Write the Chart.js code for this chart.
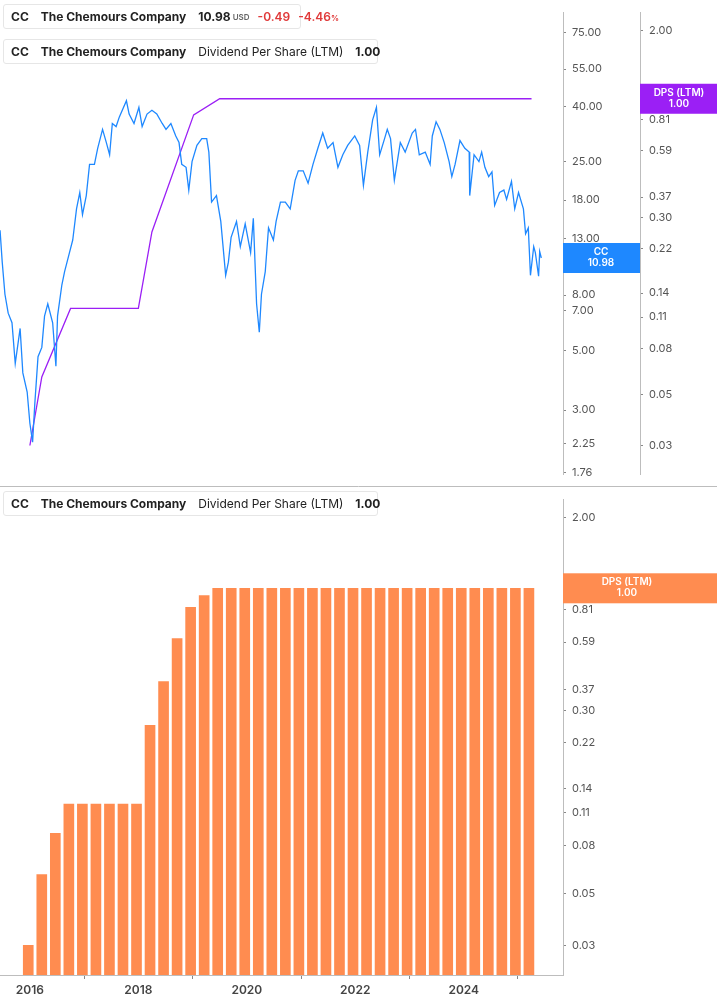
<!DOCTYPE html>
<html><head><meta charset="utf-8">
<script src="https://cdn.jsdelivr.net/npm/chart.js@4"></script>
<style>
body{margin:0;width:717px;height:1005px;background:#fff;font-family:Inter,"Noto Sans",sans-serif;position:relative;overflow:hidden}
.pane{position:absolute;left:0;width:717px}
canvas{display:block}
.lg{position:absolute;left:3px;height:25px;background:#fff;border:1px solid #e6e6e6;border-radius:3px;display:flex;align-items:center;font-size:12px;color:#222;white-space:nowrap;padding-right:10px;box-sizing:border-box}
.lg .bar{width:4px;height:25px;border-radius:3px 0 0 3px;margin-right:8px;margin-left:-1px}
.lg b{font-weight:700;margin-right:12px}
.lg span{margin-right:8px}
.sm{font-size:8px;color:#666;font-weight:600}
.red{color:#e03a3a;font-weight:600}
</style></head><body>
<div class="pane" style="top:0;height:487px"><canvas id="top" width="717" height="487" style="width:717px;height:487px"></canvas></div>
<div class="pane" style="top:487px;height:518px"><canvas id="bot" width="717" height="518" style="width:717px;height:518px"></canvas></div>
<div class="lg" style="top:4px;width:298px"><div class="bar" style="background:#1e88ff"></div><b>CC</b><b>The Chemours Company</b><b style="margin-right:2px">10.98</b><span class="sm">USD</span><span class="red">-0.49</span><span class="red" style="margin:0">-4.46<span class="sm" style="color:#e03a3a">%</span></span></div>
<div class="lg" style="top:39px;width:375px"><div class="bar" style="background:#9b1ff5"></div><b>CC</b><b>The Chemours Company</b><span style="margin-right:12px">Dividend Per Share (LTM)</span><b style="margin:0">1.00</b></div>
<div class="lg" style="top:491px;width:375px"><div class="bar" style="background:#ff8c50"></div><b>CC</b><b>The Chemours Company</b><span style="margin-right:12px">Dividend Per Share (LTM)</span><b style="margin:0">1.00</b></div>
<script>
const priceDates=[2015.45,2015.49,2015.54,2015.60,2015.67,2015.73,2015.82,2015.87,2015.95,2016.00,2016.05,2016.09,2016.15,2016.22,2016.27,2016.33,2016.42,2016.48,2016.51,2016.59,2016.64,2016.73,2016.79,2016.86,2016.92,2016.97,2017.04,2017.10,2017.19,2017.25,2017.34,2017.41,2017.47,2017.52,2017.59,2017.65,2017.78,2017.83,2017.92,2018.01,2018.07,2018.16,2018.25,2018.34,2018.44,2018.51,2018.60,2018.69,2018.75,2018.80,2018.88,2018.93,2018.99,2019.08,2019.17,2019.26,2019.30,2019.35,2019.44,2019.52,2019.61,2019.66,2019.71,2019.81,2019.88,2019.97,2020.07,2020.12,2020.18,2020.23,2020.27,2020.34,2020.40,2020.49,2020.54,2020.62,2020.71,
2020.80,2020.89,2020.95,2021.04,2021.13,2021.22,2021.31,2021.40,2021.49,2021.59,2021.68,2021.77,2021.86,2021.99,2022.08,2022.15,2022.23,2022.32,2022.39,2022.45,2022.54,2022.59,2022.65,2022.72,2022.83,2022.92,2023.05,2023.11,2023.18,2023.29,2023.38,2023.42,2023.49,2023.56,2023.64,2023.73,2023.78,2023.84,2023.93,2024.02,2024.10,2024.11,2024.19,2024.28,2024.33,2024.39,2024.46,2024.52,2024.57,2024.66,2024.74,2024.79,2024.88,2024.94,2025.01,2025.10,2025.14,2025.19,2025.23,2025.29,2025.32,2025.38,2025.40,2025.43];
const priceValues=[13.9,10.6,8.06,6.86,6.32,4.46,6.02,4.12,3.50,2.68,2.28,3.15,4.73,5.12,6.69,7.43,6.32,4.36,6.69,8.74,9.78,11.5,12.8,16.7,19.2,15.9,18.7,24.4,24.4,28.0,32.9,29.4,26.5,34.6,33.7,36.6,42.0,37.5,34.6,39.7,33.7,37.5,38.7,37.5,34.6,32.9,34.6,31.1,29.4,24.4,23.8,19.6,25.0,28.7,30.4,30.4,27.1,17.7,18.7,15.0,9.47,10.6,13.1,15.0,12.1,14.7,11.5,15.4,7.43,5.83,8.06,9.78,14.2,12.8,15.0,17.7,17.7,
16.7,21.3,23.1,23.1,20.8,24.4,28.0,31.9,28.0,29.4,23.8,26.5,28.7,31.1,28.7,20.4,27.1,35.7,39.7,26.5,30.4,32.9,30.4,21.3,29.4,27.1,31.9,32.9,26.5,27.1,24.4,31.1,35.1,32.9,29.4,25.0,22.0,24.4,29.9,28.0,27.1,18.7,26.5,25.0,27.1,23.8,22.0,22.9,17.2,19.2,19.6,18.1,21.1,16.7,19.2,16.7,13.5,14.2,9.47,12.1,11.5,9.40,11.6,10.98];
const dpsLineDates=[2016.0,2016.22,2016.75,2018.0,2018.25,2019.02,2019.5,2025.25];
const dpsLineValues=[0.03,0.06,0.12,0.12,0.26,0.85,1.00,1.00];
const dpsBarDates=Array.from({length:38},(_,i)=>2015.97+i*0.2495);
const dpsBarValues=[0.03,0.06,0.09,0.12,0.12,0.12,0.12,0.12,0.12,0.26,0.40,0.61,0.83,0.93,1,1,1,1,1,1,1,1,1,1,1,1,1,1,1,1,1,1,1,1,1,1,1,1];
const priceTicks=[75,55,40,25,18,13,8,7,5,3,2.25,1.76];
const dpsTicks=[2.00,0.81,0.59,0.37,0.30,0.22,0.14,0.11,0.08,0.05,0.03];
const yearTicks=[2016,2018,2020,2022,2024];
const lastPrice=10.98, lastDps=1.00;

const XMIN=2015.449,XMAX=2025.83;
const tickFont={family:'Inter',size:11};
function fixTicks(arr){return s=>{s.ticks=arr.map(v=>({value:v}));};}
function boxLabel(ctx,x0,x1,yc,color,l1,l2,tx){
  ctx.save();ctx.fillStyle=color;ctx.fillRect(x0,yc-15,x1-x0,30);
  ctx.fillStyle='#fff';ctx.font='600 10px Inter';ctx.textAlign='center';ctx.textBaseline='middle';
  ctx.fillText(l1,tx,yc-6);ctx.fillText(l2,tx,yc+5);ctx.restore();
}
const topPlug={id:'tp',afterDraw(c){
  const ctx=c.ctx;
  ctx.save();ctx.strokeStyle='#bdbdbd';ctx.lineWidth=1;
  ctx.beginPath();ctx.moveTo(0,486.5);ctx.lineTo(717,486.5);ctx.stroke();ctx.restore();
  boxLabel(ctx,563,640,c.scales.yP.getPixelForValue(lastPrice),'#1e88ff','CC',lastPrice.toFixed(2),601);
  boxLabel(ctx,640,717,c.scales.yD.getPixelForValue(lastDps),'#9b1ff5','DPS (LTM)',lastDps.toFixed(2),679);
}};
new Chart(document.getElementById('top'),{
  type:'line',
  data:{datasets:[
    {data:priceDates.map((d,i)=>({x:d,y:priceValues[i]})),yAxisID:'yP',borderColor:'#1e88ff',borderWidth:1.3,pointRadius:0,tension:0},
    {data:dpsLineDates.map((d,i)=>({x:d,y:dpsLineValues[i]})),yAxisID:'yD',borderColor:'#9b1ff5',borderWidth:1.3,pointRadius:0,tension:0}
  ]},
  options:{responsive:false,animation:false,devicePixelRatio:1,layout:{padding:0},
    plugins:{legend:{display:false},tooltip:{enabled:false}},
    scales:{
      x:{type:'linear',min:XMIN,max:XMAX,display:false},
      yP:{type:'logarithmic',position:'right',min:1.733,max:89.1,weight:1,afterBuildTicks:fixTicks(priceTicks),
        afterFit:s=>{s.width=77;},grid:{drawOnChartArea:false,tickLength:3,color:'#888'},border:{display:true,color:'#bdbdbd'},
        ticks:{font:tickFont,color:'#555',padding:6,autoSkip:false,callback:v=>Number(v).toFixed(2)}},
      yD:{type:'logarithmic',position:'right',min:0.0224,max:2.39,weight:2,afterBuildTicks:fixTicks(dpsTicks),
        afterFit:s=>{s.width=77;},grid:{drawOnChartArea:false,tickLength:3,color:'#888'},border:{display:true,color:'#bdbdbd'},
        ticks:{font:tickFont,color:'#555',padding:6,autoSkip:false,callback:v=>Number(v).toFixed(2)}}
    }},
  plugins:[topPlug]
});
const botPlug={id:'bp',afterDraw(c){
  boxLabel(c.ctx,563,717,c.scales.y.getPixelForValue(lastDps),'#ff8c50','DPS (LTM)',lastDps.toFixed(2),627);
}};
new Chart(document.getElementById('bot'),{
  type:'bar',
  data:{datasets:[{data:dpsBarDates.map((d,i)=>({x:d,y:dpsBarValues[i]})),backgroundColor:'#ff8c50',barThickness:10}]},
  options:{responsive:false,animation:false,devicePixelRatio:1,layout:{padding:0},
    plugins:{legend:{display:false},tooltip:{enabled:false}},
    scales:{
      x:{type:'linear',min:XMIN,max:XMAX,offset:false,afterBuildTicks:fixTicks(yearTicks),afterFit:s=>{s.height=30;},
        grid:{drawOnChartArea:false,tickLength:4,color:'#888'},border:{display:true,color:'#bdbdbd'},
        ticks:{font:{family:'Inter',size:12,weight:'600'},color:'#444',padding:4,maxRotation:0,minRotation:0,autoSkip:false,callback:v=>String(v)}},
      y:{type:'logarithmic',position:'right',min:0.0224,max:2.39,afterBuildTicks:fixTicks(dpsTicks),afterFit:s=>{s.width=154;},
        grid:{drawOnChartArea:false,tickLength:3,color:'#888'},border:{display:true,color:'#bdbdbd'},
        ticks:{font:tickFont,color:'#555',padding:6,autoSkip:false,callback:v=>Number(v).toFixed(2)}}
    }},
  plugins:[botPlug]
});
</script>
</body></html>
